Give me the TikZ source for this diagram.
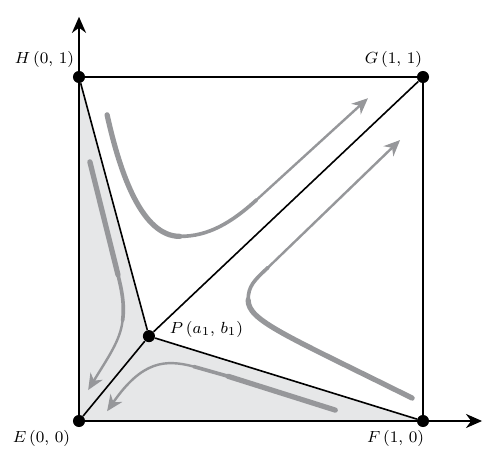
\documentclass[tikz,border=0pt]{standalone}
\usepackage{amsmath}
\usetikzlibrary{positioning,arrows.meta,backgrounds}
\definecolor{flowgray}{RGB}{150,151,154}
\definecolor{shadegray}{RGB}{230,231,232}

\begin{document}
\begin{tikzpicture}[dot/.style={circle,fill,inner sep=0pt,minimum size=6pt},
    lbl/.style={inner sep=0pt,font=\fontsize{8.5}{10}\selectfont},
    edge/.style={line width=0.9pt},
    thick flow/.style={draw=flowgray,line width=2.6pt,line cap=round},
    mid flow/.style={draw=flowgray,line width=1.8pt,line cap=round},
    thin flow/.style={draw=flowgray,line width=1.2pt,line cap=round,-{Stealth[length=8pt,width=7pt,inset=2.5pt]}},
    >={Stealth[length=8pt,width=7pt]}]
  \useasboundingbox (-1.378,-0.750) rectangle (7.343,7.343);
  \node[dot] (E) at (0,0) {};
  \node[dot] (F) at (6,0) {};
  \node[dot] (G) at (6,6) {};
  \node[dot] (H) at (0,6) {};
  \node[dot] (P) at (1.22,1.48) {};
  \coordinate (ytip) at (0,7.05);
  \coordinate (xtip) at (7.03,0);
  \begin{scope}[on background layer]
  \fill[shadegray] (H.center) -- (E.center) -- (F.center) -- (P.center) -- cycle;
  % flow lines
  \draw[thick flow] (0.49,5.34) .. controls (0.72,4.3) and (1.1,3.22) .. (1.76,3.22);
  \draw[mid flow] (1.76,3.22) .. controls (2.25,3.22) and (2.65,3.45) .. (3.1,3.86);
  \draw[thin flow] (3.1,3.86) -- (5.04,5.63);
  \draw[thick flow] (5.81,0.40) .. controls (3.6,1.5) and (2.95,1.75) .. (2.95,2.11);
  \draw[mid flow] (2.95,2.11) .. controls (2.95,2.35) and (3.05,2.45) .. (3.3,2.68);
  \draw[thin flow] (3.3,2.68) -- (5.6,4.9);
  \draw[thick flow] (0.19,4.52) -- (0.68,2.55);
  \draw[mid flow] (0.68,2.55) .. controls (0.74,2.3) and (0.8,2.05) .. (0.76,1.75);
  \draw[thin flow] (0.76,1.75) .. controls (0.72,1.4) and (0.5,1.1) .. (0.16,0.54);
  \draw[thick flow] (4.47,0.19) -- (2.6,0.78);
  \draw[mid flow] (2.6,0.78) -- (2.0,0.95);
  \draw[thin flow] (2.0,0.95) .. controls (1.5,1.08) and (1.1,1.05) .. (0.49,0.17);
  % square and lines
  \draw[edge] (E.center) -- (F.center) -- (G.center) -- (H.center) -- cycle;
  \draw[edge,->] (E.center) -- (ytip);
  \draw[edge,->] (E.center) -- (xtip);
  \draw[line width=0.8pt] (H) -- (P) -- (F);
  \draw[line width=0.8pt] (E) -- (P) -- (G);
  \end{scope}
  \node[lbl,above left=2pt and 0pt of H] (Hl) {$H\,(0,\,1)$};
  \node[lbl,above left=2pt and -2pt of G] (Gl) {$G\,(1,\,1)$};
  \node[lbl,below left=2.4pt and 2pt of E] (El) {$E\,(0,\,0)$};
  \node[lbl,below left=2.4pt and -3pt of F] (Fl) {$F\,(1,\,0)$};
  \node[lbl,right=7pt of P,yshift=3.5pt] (Pl) {$P\,(a_1,\,b_1)$};
\end{tikzpicture}
\end{document}
